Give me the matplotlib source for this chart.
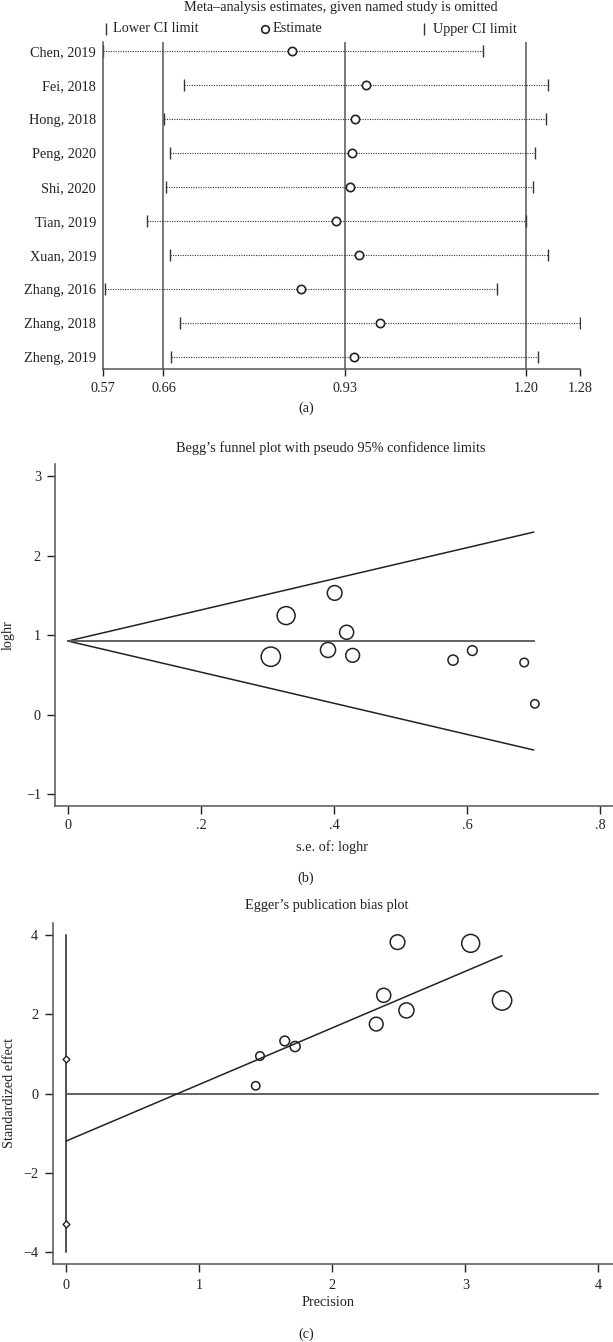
import matplotlib
matplotlib.use("Agg")
import matplotlib.pyplot as plt
import numpy as np

plt.rcParams['font.family'] = ['Liberation Serif', 'DejaVu Serif']
plt.rcParams['axes.unicode_minus'] = True

# ---------------- data ----------------
# (a) leave-one-out sensitivity analysis
studies = ["Chen, 2019", "Fei, 2018", "Hong, 2018", "Peng, 2020", "Shi, 2020",
           "Tian, 2019", "Xuan, 2019", "Zhang, 2016", "Zhang, 2018", "Zheng, 2019"]
est = [0.852, 0.961, 0.945, 0.941, 0.937, 0.917, 0.951, 0.865, 0.983, 0.944]
lower = [0.570, 0.690, 0.661, 0.669, 0.664, 0.636, 0.670, 0.573, 0.685, 0.671]
upper = [1.136, 1.232, 1.230, 1.213, 1.210, 1.199, 1.232, 1.157, 1.280, 1.218]
overall_est = 0.93
overall_ci = [0.66, 1.20]
a_ticks = [0.57, 0.66, 0.93, 1.20, 1.28]

# (b) Begg's funnel plot
se = [0.305, 0.328, 0.391, 0.401, 0.419, 0.428, 0.579, 0.608, 0.686, 0.702]
loghr = [0.733, 1.25, 0.818, 1.535, 1.04, 0.75, 0.69, 0.81, 0.66, 0.14]
funnel_x = [0.0, 0.70]
funnel_upper = [0.93, 2.30]
funnel_lower = [0.93, -0.44]
funnel_mid = [0.93, 0.93]

# (c) Egger's plot
precision = [3.276, 3.04, 2.557, 2.49, 2.386, 2.33, 1.72, 1.642, 1.456, 1.424]
std_effect = [2.35, 3.79, 2.10, 3.82, 2.48, 1.755, 1.19, 1.33, 0.95, 0.20]
egger_line_x = [0.0, 3.274]
egger_line_y = [-1.19, 3.476]
intercept_ci = [0.874, -3.27]

# ---------------- layout ----------------
W, H = 613, 1342
fig = plt.figure(figsize=(W / 100, H / 100), dpi=100)

def rect(l, t, r, b):
    return [l / W, 1 - b / H, (r - l) / W, (b - t) / H]

def fy(y):
    return 1 - y / H

def fx(x):
    return x / W

FS = 10.3
INK = '#222222'
GREY = '#555555'

def style_axes(ax):
    for s in ['top', 'right']:
        ax.spines[s].set_visible(False)
    for s in ['left', 'bottom']:
        ax.spines[s].set_color(GREY)
        ax.spines[s].set_linewidth(1.1)
    ax.tick_params(colors=INK, labelsize=FS, width=1.0, direction='out')
    for lab in ax.get_xticklabels() + ax.get_yticklabels():
        lab.set_color(INK)

# ---------- panel (a) ----------
ax1 = fig.add_axes(rect(103, 42, 580, 369))
ax1.set_xlim(0.57, 1.28)
ax1.set_ylim(9.353, -0.265)
for v in overall_ci + [overall_est]:
    ax1.axvline(v, color=GREY, lw=1.1)
rows = np.arange(len(studies))
for i in rows:
    ax1.plot([lower[i], upper[i]], [i, i], ls=(0, (1, 1.2)), lw=0.8, color='#333333')
ax1.plot(lower, rows, ls='none', marker='|', ms=8, mew=1.0, color='#333333')
ax1.plot(upper, rows, ls='none', marker='|', ms=8, mew=1.0, color='#333333')
ax1.plot(est, rows, ls='none', marker='o', ms=6, mfc='white', mec=INK, mew=1.2)
ax1.set_yticks(rows)
ax1.set_yticklabels(studies)
ax1.set_xticks(a_ticks)
ax1.set_xticklabels([f"{t:.2f}" for t in a_ticks])
style_axes(ax1)
ax1.tick_params(axis='y', length=0, pad=5)
ax1.tick_params(axis='x', length=5, pad=4.3)

fig.text(fx(341), fy(8), "Meta\u2013analysis estimates, given named study is omitted",
         ha='center', va='center', fontsize=FS, color=INK)
# legend
ly = fy(29)
fig.add_artist(plt.Line2D([fx(106)], [ly], marker='|', ms=8, mew=1.0, color='#333333',
                          ls='none', transform=fig.transFigure))
fig.text(fx(113), ly, "Lower CI limit", ha='left', va='center', fontsize=FS, color=INK)
fig.add_artist(plt.Line2D([fx(265)], [ly], marker='o', ms=5.5, mfc='white', mec=INK, mew=1.2,
                          ls='none', transform=fig.transFigure))
fig.text(fx(273), ly, "Estimate", ha='left', va='center', fontsize=FS, color=INK)
fig.add_artist(plt.Line2D([fx(424)], [ly], marker='|', ms=8, mew=1.0, color='#333333',
                          ls='none', transform=fig.transFigure))
fig.text(fx(433), ly, "Upper CI limit", ha='left', va='center', fontsize=FS, color=INK)
fig.text(fx(306), fy(408), "(a)", ha='center', va='center', fontsize=FS, color=INK)

# ---------- panel (b) ----------
ax2 = fig.add_axes(rect(55, 464, 613, 806))
ax2.set_xlim(-0.0195, 0.8195)
ax2.set_ylim(-1.145, 3.157)
ax2.plot(funnel_x, funnel_upper, color=INK, lw=1.1)
ax2.plot(funnel_x, funnel_lower, color=INK, lw=1.1)
ax2.plot(funnel_x, funnel_mid, color=GREY, lw=1.3)
sizes_b = [18.0 / s ** 2 for s in se]
ax2.scatter(se, loghr, s=sizes_b, facecolors='none', edgecolors=INK, linewidths=1.1, zorder=3)
ax2.set_xticks([0, 0.2, 0.4, 0.6, 0.8])
ax2.set_xticklabels(['0', '.2', '.4', '.6', '.8'])
ax2.set_yticks([-1, 0, 1, 2, 3])
ax2.set_yticklabels(['\u22121', '0', '1', '2', '3'])
style_axes(ax2)
ax2.tick_params(axis='x', length=5.8, pad=3.6)
ax2.tick_params(axis='y', length=5.8, pad=4.3)
fig.text(fx(331), fy(448), "Begg\u2019s funnel plot with pseudo 95% confidence limits",
         ha='center', va='center', fontsize=FS, color=INK)
fig.text(fx(8), fy(635), "loghr", rotation=90, ha='center', va='center', fontsize=FS, color=INK)
fig.text(fx(332), fy(847), "s.e. of: loghr", ha='center', va='center', fontsize=FS, color=INK)
fig.text(fx(306), fy(878), "(b)", ha='center', va='center', fontsize=FS, color=INK)

# ---------- panel (c) ----------
ax3 = fig.add_axes(rect(53.3, 922.7, 613, 1264))
ax3.set_xlim(-0.098, 4.11)
ax3.set_ylim(-4.29, 4.31)
ax3.plot([0, 0], [-4, 4], color=INK, lw=1.1)
ax3.plot([0, 4], [0, 0], color=GREY, lw=1.3)
ax3.plot(egger_line_x, egger_line_y, color=INK, lw=1.1)
ax3.plot([0, 0], intercept_ci, ls='none', marker='D', ms=3.5, mfc='white', mec=INK, mew=1.0, zorder=4)
sizes_c = [18.0 * p ** 2 for p in precision]
ax3.scatter(precision, std_effect, s=sizes_c, facecolors='none', edgecolors=INK, linewidths=1.1, zorder=3)
ax3.set_xticks([0, 1, 2, 3, 4])
ax3.set_yticks([-4, -2, 0, 2, 4])
ax3.set_yticklabels(['\u22124', '\u22122', '0', '2', '4'])
style_axes(ax3)
ax3.tick_params(axis='x', length=5.8, pad=5)
ax3.tick_params(axis='y', length=5.8, pad=5)
fig.text(fx(327), fy(906), "Egger\u2019s publication bias plot",
         ha='center', va='center', fontsize=FS, color=INK)
fig.text(fx(10), fy(1093), "Standardized effect", rotation=90, ha='center', va='center',
         fontsize=FS, color=INK)
fig.text(fx(328), fy(1303), "Precision", ha='center', va='center', fontsize=FS, color=INK)
fig.text(fx(306), fy(1334), "(c)", ha='center', va='center', fontsize=FS, color=INK)

fig.savefig("out.png", dpi=100)
